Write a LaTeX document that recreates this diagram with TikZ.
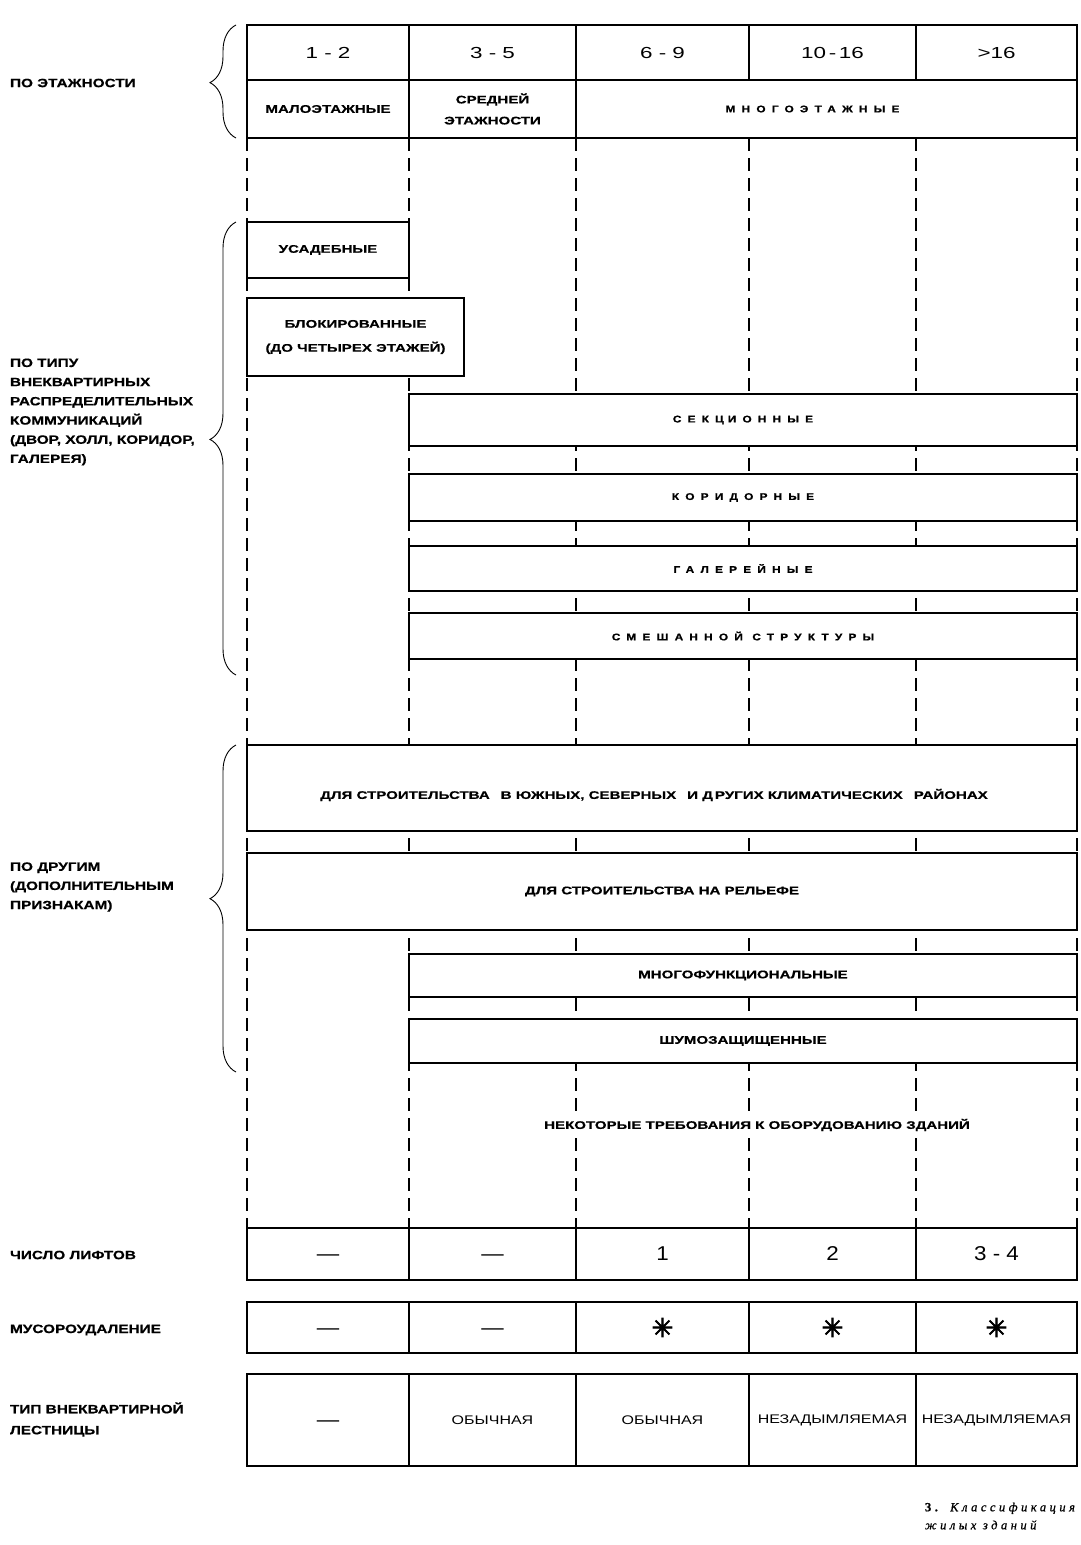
\documentclass[tikz,border=0pt]{standalone}
\usepackage{fontspec}
\setmainfont{Liberation Sans}
\newfontfamily\lblfont{Liberation Sans}[FakeStretch=1.28, BoldFeatures={FakeBold=0.5}]
\newfontfamily\spfont{Liberation Sans}[FakeStretch=1.22, BoldFeatures={FakeBold=1.0}]
\newfontfamily\bxfont{Liberation Sans}[FakeStretch=1.37, BoldFeatures={FakeBold=0.5}]
\newfontfamily\numfont{Liberation Sans}[FakeStretch=1.4]
\newfontfamily\numfontb{Liberation Sans}[FakeStretch=1.12]
\newfontfamily\capfont{Liberation Serif}[LetterSpace=28, FakeBold=0.8]
\newfontfamily\symfont{DejaVu Sans}[FakeBold=3]
\usetikzlibrary{decorations.pathreplacing}
\newcommand\fntbox{\bxfont\bfseries\fontsize{11}{20}\selectfont}
\newcommand\fntlbl{\lblfont\bfseries\fontsize{12}{19.2}\selectfont}
\newcommand\fntsp{\spfont\bfseries\fontsize{9.7}{12}\selectfont\addfontfeatures{LetterSpace=64}}
\newcommand\fntnum{\numfont\fontsize{16}{18}\selectfont}
\newcommand\fntnumb{\numfontb\fontsize{20}{22}\selectfont}
\newcommand\fnttxt{\bxfont\fontsize{12.5}{14}\selectfont\addfontfeatures{FakeStretch=1.28}}
\newcommand\dashmark{\vphantom{1}—}
\begin{document}
\begin{tikzpicture}[x=1pt,y=-1pt,
  every node/.style={inner sep=0pt, outer sep=0pt},
  box/.style={draw, line width=2.6pt, fill=white, align=center, font=\fntbox},
  spbox/.style={box, font=\fntsp},
  cell/.style={draw, line width=2.4pt, fill=white, align=center},
  numcell/.style={cell, font=\fntnum},
  numcellb/.style={cell, font=\fntnumb},
  txtcell/.style={cell, font=\fnttxt},
  symcell/.style={cell, font=\symfont\fontsize{26}{28}\selectfont},
  lbl/.style={anchor=west, align=left, font=\fntlbl},
  gridline/.style={line width=1.3pt, dash pattern=on 13pt off 7pt},
  bracestyle/.style={line width=0.9pt, decorate, decoration={brace, amplitude=26pt, aspect=#1}}
]
\fill[white] (0,0) rectangle (1081,1545);
\useasboundingbox (0,0) rectangle (1081,1545);

% dashed grid
\foreach \gx [count=\k] in {247,409,576,749,916,1077}{
  \coordinate (gt\k) at (\gx,138);
  \coordinate (gb\k) at (\gx,1228);
  \draw[gridline] (gt\k) -- (gb\k);
}

% top table
\node[numcell, minimum width=162, minimum height=55] (t11) at (328,52.5) {1 - 2};
\node[numcell, minimum width=167, minimum height=55] (t12) at (492.5,52.5) {3 - 5};
\node[numcell, minimum width=173, minimum height=55] (t13) at (662.5,52.5) {6 - 9};
\node[numcell, minimum width=167, minimum height=55] (t14) at (832.5,52.5) {10\,-\,16};
\node[numcell, minimum width=161, minimum height=55] (t15) at (996.5,52.5) {>16};
\node[box, minimum width=162, minimum height=58] (t21) at (328,109) {МАЛОЭТАЖНЫЕ};
\node[box, minimum width=167, minimum height=58, font=\bxfont\bfseries\fontsize{11}{21}\selectfont] (t22) at (492.5,109) {СРЕДНЕЙ\\ЭТАЖНОСТИ};
\node[spbox, minimum width=501, minimum height=58] (t23) at (826.5,109) {МНОГОЭТАЖНЫЕ\hspace{28pt}};

% communication types
\node[box, minimum width=162, minimum height=56] (usad) at (328,250) {УСАДЕБНЫЕ};
\node[box, minimum width=217, minimum height=78, font=\bxfont\bfseries\fontsize{11}{24}\selectfont] (blok) at (355.5,337) {БЛОКИРОВАННЫЕ\\(ДО ЧЕТЫРЕХ ЭТАЖЕЙ)};
\node[spbox, minimum width=668, minimum height=52] (sekc) at (743,420) {СЕКЦ\kern4pt ИОННЫЕ};
\node[spbox, minimum width=668, minimum height=47] (kor) at (743,497.5) {КОРИДОРНЫЕ};
\node[spbox, minimum width=668, minimum height=45] (gal) at (743,568.5) {ГАЛЕРЕЙНЫЕ};
\node[spbox, minimum width=668, minimum height=46] (sme) at (743,636) {СМЕШАННОЙ СТРУКТУРЫ};

% other features
\node[box, minimum width=830, minimum height=86] (klim) at (662,788) {};
\node[font=\fntbox] (klimt) at (654,795) {ДЛЯ СТРОИТЕЛЬСТВА\hspace{11pt}В ЮЖНЫХ, СЕВЕРНЫХ\hspace{11pt}И Д\kern2pt РУГИХ КЛИМАТИЧЕСКИХ\hspace{11pt}РАЙОНАХ};
\node[box, minimum width=830, minimum height=77] (rel) at (662,891.5) {ДЛЯ СТРОИТЕЛЬСТВА НА РЕЛЬЕФЕ};
\node[box, minimum width=668, minimum height=43] (mnf) at (743,975.5) {МНОГОФУНКЦИОНАЛЬНЫЕ};
\node[box, minimum width=668, minimum height=44] (shum) at (743,1041) {ШУМОЗАЩИЩЕННЫЕ};
\node[fill=white, inner sep=3pt, font=\fntbox] (treb) at (757,1125) {НЕКОТОРЫЕ ТРЕБОВАНИЯ К ОБОРУДОВАНИЮ ЗДАНИЙ};

% lifts
\node[numcellb, minimum width=162, minimum height=52] (l1) at (328,1254) {\dashmark};
\node[numcellb, minimum width=167, minimum height=52] (l2) at (492.5,1254) {\dashmark};
\node[numcellb, minimum width=173, minimum height=52] (l3) at (662.5,1254) {1};
\node[numcellb, minimum width=167, minimum height=52] (l4) at (832.5,1254) {2};
\node[numcellb, minimum width=161, minimum height=52] (l5) at (996.5,1254) {3 - 4};
% garbage
\node[numcellb, minimum width=162, minimum height=51] (m1) at (328,1327.5) {\dashmark};
\node[numcellb, minimum width=167, minimum height=51] (m2) at (492.5,1327.5) {\dashmark};
\node[symcell, minimum width=173, minimum height=51] (m3) at (662.5,1327.5) {✳};
\node[symcell, minimum width=167, minimum height=51] (m4) at (832.5,1327.5) {✳};
\node[symcell, minimum width=161, minimum height=51] (m5) at (996.5,1327.5) {✳};
% stairs
\node[numcellb, minimum width=162, minimum height=92] (s1) at (328,1420) {\dashmark};
\node[txtcell, minimum width=167, minimum height=92] (s2) at (492.5,1420) {ОБЫЧНАЯ};
\node[txtcell, minimum width=173, minimum height=92] (s3) at (662.5,1420) {ОБЫЧНАЯ};
\node[txtcell, minimum width=167, minimum height=92] (s4) at (832.5,1420) {НЕЗАДЫМЛЯЕМАЯ};
\node[txtcell, minimum width=161, minimum height=92] (s5) at (996.5,1420) {НЕЗАДЫМЛЯЕМАЯ};

% left labels
\node[lbl] (a1) at (10,83) {ПО ЭТАЖНОСТИ};
\node[lbl] (a2) at (10,412) {ПО ТИПУ\\ВНЕКВАРТИРНЫХ\\РАСПРЕДЕЛИТЕЛЬНЫХ\\КОММУНИКАЦИЙ\\(ДВОР, ХОЛЛ, КОРИДОР,\\ГАЛЕРЕЯ)};
\node[lbl] (a3) at (10,887) {ПО ДРУГИМ\\(ДОПОЛНИТЕЛЬНЫМ\\ПРИЗНАКАМ)};
\node[lbl] (a4) at (10,1255) {ЧИСЛО ЛИФТОВ};
\node[lbl] (a5) at (10,1330) {МУСОРОУДАЛЕНИЕ};
\node[lbl, font=\lblfont\bfseries\fontsize{12}{21}\selectfont] (a6) at (10,1419.5) {ТИП ВНЕКВАРТИРНОЙ\\ЛЕСТНИЦЫ};

% braces
\coordinate (b1s) at (236,138); \coordinate (b1e) at (236,25);
\coordinate (b2s) at (236,675); \coordinate (b2e) at (236,222);
\coordinate (b3s) at (236,1072); \coordinate (b3e) at (236,745);
\draw[bracestyle=0.49] (b1s) -- (b1e);
\draw[bracestyle=0.52] (b2s) -- (b2e);
\draw[bracestyle=0.53] (b3s) -- (b3e);

% caption
\node[anchor=west, align=left, font=\capfont\fontsize{12.5}{18}\selectfont] (cap) at (925,1516) {\textbf{3.} \textit{Классификация}\\\textit{жилых зданий}};
\end{tikzpicture}
\end{document}
